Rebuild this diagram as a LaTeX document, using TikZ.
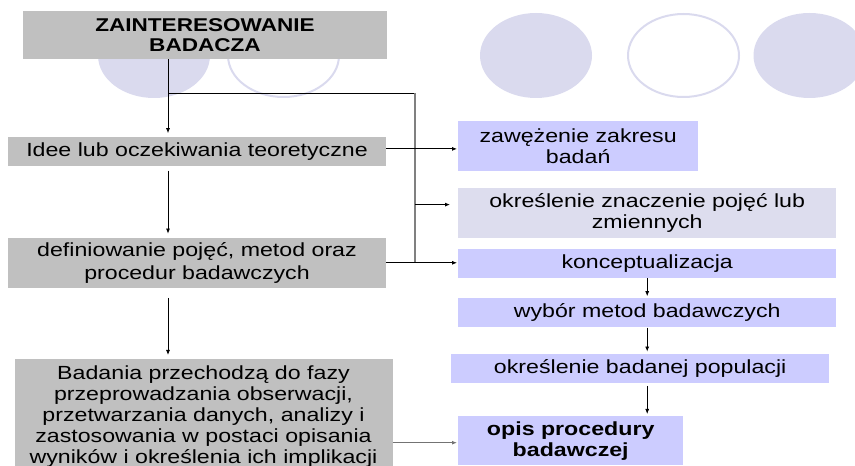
\documentclass[tikz,border=0pt]{standalone}
\usepackage{fontspec}
\setmainfont{Liberation Sans}[FakeStretch=1.22]
\usepackage{tikz}
\usetikzlibrary{positioning,arrows.meta}
\definecolor{stagegray}{RGB}{192,192,192}
\definecolor{tasklav}{RGB}{204,204,255}
\definecolor{palelav}{RGB}{221,221,238}
\definecolor{decor}{RGB}{218,218,238}
\tikzset{basic/.style={inner sep=0pt,align=center,font=\fontsize{19}{21}\selectfont}}
\tikzset{stage/.style={basic,fill=stagegray}}
\tikzset{task/.style={basic,fill=tasklav}}
\tikzset{pale/.style={basic,fill=palelav}}
\tikzset{link/.style={draw=black,line width=0.8pt,-{Latex[length=5pt,width=4pt]}}}
\tikzset{ring/.style={draw=decor,line width=2pt}}

\begin{document}
\begin{tikzpicture}[x=1pt,y=1pt]
        \useasboundingbox (0,0) rectangle (855,466);
        \fill[decor] (154,410.5) ellipse (56 and 42.5);
        \draw[ring] (283.5,410.5) ellipse (55.5 and 41.5);
        \fill[decor] (536,410.5) ellipse (56 and 42.5);
        \draw[ring] (683.5,410.5) ellipse (55.5 and 41.5);
        \fill[decor] (809.5,410.5) ellipse (56 and 42.5);
        \node[stage,minimum width=364pt,minimum height=48pt,font=\fontsize{18.5}{20}\selectfont\bfseries] (interest) at (205,431) {ZAINTERESOWANIE\\BADACZA};
        \node[stage,minimum width=378pt,minimum height=29pt,below=78pt of interest,xshift=-8pt] (ideas) {Idee lub oczekiwania teoretyczne};
        \node[stage,minimum width=378pt,minimum height=50pt,below=71pt of ideas,font=\fontsize{19}{23}\selectfont] (define) {definiowanie pojęć, metod oraz\\procedur badawczych};
        \node[stage,minimum width=378pt,minimum height=114pt,below=71pt of define,xshift=6.5pt] (research) {Badania przechodzą do fazy\\przeprowadzania obserwacji,\\przetwarzania danych, analizy i\\zastosowania w postaci opisania\\wyników i określenia ich implikacji};
        \node[task,minimum width=240pt,minimum height=50pt,anchor=north west] (narrow) at (458,345) {zawężenie zakresu\\badań};
        \node[pale,minimum width=378pt,minimum height=50pt,below right=16pt and 0pt of narrow.south west] (meaning) {określenie znaczenie pojęć lub\\zmiennych};
        \node[task,minimum width=378pt,minimum height=29pt,below=11pt of meaning] (concept) {konceptualizacja};
        \node[task,minimum width=378pt,minimum height=29pt,below=20pt of concept] (methods) {wybór metod badawczych};
        \node[task,minimum width=378pt,minimum height=29pt,below=26pt of methods,xshift=-7pt] (population) {określenie badanej populacji};
        \node[task,minimum width=225pt,minimum height=49pt,below right=33pt and 7pt of population.south west,font=\fontsize{19}{21}\selectfont\bfseries] (procedure) {opis procedury\\badawczej};
        \coordinate (trunk) at (168,0);
        \coordinate (split) at (415,373);
            \path[link,shorten >=4pt] (trunk |- interest.south) -- (trunk |- ideas.north);
            \path[link,shorten <=4pt,shorten >=4pt] (trunk |- ideas.south) -- (trunk |- define.north);
            \path[link,shorten <=10pt,shorten >=4pt] (trunk |- define.south) -- (trunk |- research.north);
            \path[draw,line width=0.8pt] (trunk |- split) -- (split);
            \path[draw=black!50,line width=1.5pt] (split) -- (split |- define.east);
            \path[link,shorten >=1pt] ([yshift=3pt]ideas.east) -- ([yshift=3pt]ideas.east -| narrow.west);
            \path[link,shorten >=8pt] ([yshift=8pt]split |- meaning.west) -- ([yshift=8pt]meaning.west);
            \path[link,shorten >=1pt] (define.east) -- (define.east -| concept.west);
            \path[link,draw=black!55,line width=1.2pt,shorten >=1pt] ([yshift=-2pt]research.east |- procedure.west) -- ([yshift=-2pt]procedure.west);
            \path[link,shorten >=2pt] (concept.south) -- (methods.north);
            \path[link,shorten >=2pt] (methods.south) -- (methods.south |- population.north);
            \path[link,shorten <=3pt,shorten >=2pt] (methods.south |- population.south) -- (methods.south |- procedure.north);
\end{tikzpicture}
\end{document}
